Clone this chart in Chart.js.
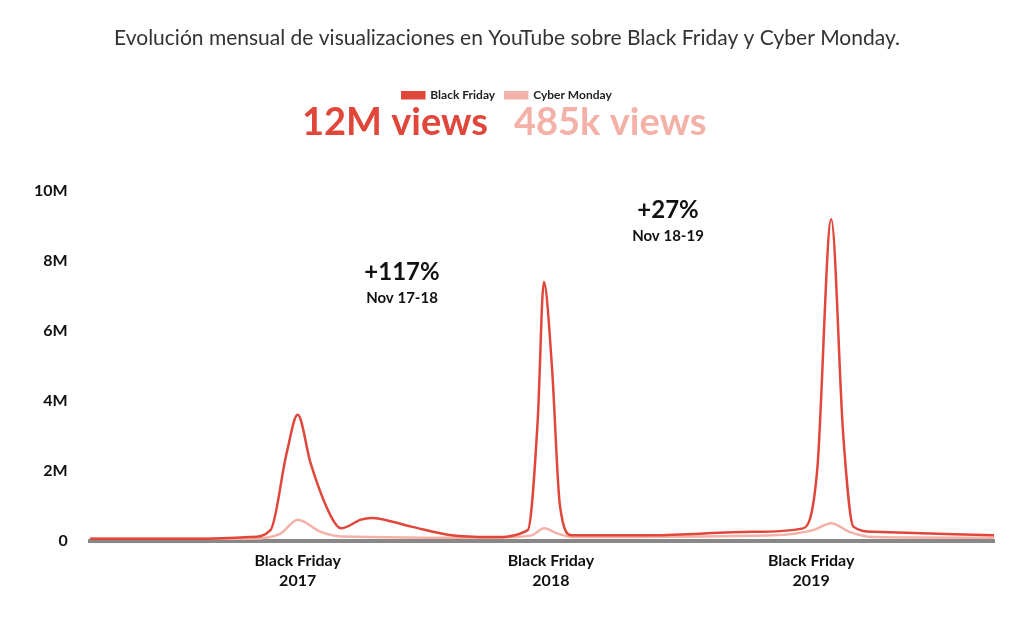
<!DOCTYPE html>
<html><head><meta charset="utf-8">
<script src="https://cdn.jsdelivr.net/npm/chart.js@4"></script>
<style>html,body{margin:0;background:#fff}#wrap{width:1024px;height:636px}</style>
</head><body><div id="wrap"><canvas id="myChart"></canvas></div>
<script>
// x position in approx. months from the start of 2017 (axis position units), values in millions
const bfX = [0, 5, 8, 9, 9.8, 10.35, 11, 12, 12.5, 13.5, 14, 16, 18, 20, 21.8, 22.3, 22.6, 23, 23.4, 24, 28, 33, 35.5, 36.2, 36.9, 37.5, 38, 39, 45];
const bfY = [0.05, 0.05, 0.1, 0.3, 2.5, 3.6, 2.2, 0.7, 0.35, 0.6, 0.65, 0.4, 0.15, 0.1, 0.3, 3.5, 7.4, 5, 1, 0.15, 0.15, 0.25, 0.35, 2, 9.2, 3, 0.4, 0.25, 0.15];
const cmX = [0, 8, 9.5, 10.35, 11.5, 12.5, 20, 22, 22.6, 23.3, 24, 34, 36, 36.9, 37.8, 39, 45];
const cmY = [0.05, 0.05, 0.2, 0.6, 0.25, 0.12, 0.08, 0.15, 0.35, 0.2, 0.1, 0.15, 0.3, 0.5, 0.25, 0.1, 0.08];
const xTickPos = [10.35, 22.95, 35.9];
const xTickLabels = [['Black Friday', '2017'], ['Black Friday', '2018'], ['Black Friday', '2019']];
const yTicks = [0, 2, 4, 6, 8, 10];
const totals = ['12M views', '485k views'];
const notes = [['+117%', 'Nov 17-18'], ['+27%', 'Nov 18-19']];

const red = '#e0463a';
const pink = '#f3b1a8';
const font = 'Lato, "Open Sans", sans-serif';

const overlay = {
  id: 'overlay',
  beforeInit(chart) {
    // room under the legend for the large totals
    const fit = chart.legend.fit;
    chart.legend.fit = function () { fit.call(this); this.height += 80; };
  },
  afterDraw(chart) {
    const c = chart.ctx;
    c.save();
    c.textBaseline = 'middle';
    c.font = 'bold 38px ' + font;
    c.fillStyle = red;
    c.textAlign = 'left';
    c.fillText(totals[0], 302, 123);
    c.fillStyle = pink;
    c.fillText(totals[1], 514, 123);
    c.fillStyle = '#111';
    c.textAlign = 'center';
    c.font = 'bold 24px ' + font;
    c.fillText(notes[0][0], 402, 272);
    c.fillText(notes[1][0], 668, 210);
    c.font = 'bold 15px ' + font;
    c.fillText(notes[0][1], 402, 298);
    c.fillText(notes[1][1], 668, 236);
    c.restore();
  }
};

const toPts = (xs, ys) => xs.map((x, i) => ({x: x, y: ys[i]}));

new Chart(document.getElementById('myChart'), {
  type: 'line',
  data: {
    datasets: [{
      label: 'Black Friday',
      data: toPts(bfX, bfY),
      borderColor: red, backgroundColor: red,
      borderWidth: 2.5, pointRadius: 0, cubicInterpolationMode: 'monotone'
    }, {
      label: 'Cyber Monday',
      data: toPts(cmX, cmY),
      borderColor: pink, backgroundColor: pink,
      borderWidth: 2.5, pointRadius: 0, cubicInterpolationMode: 'monotone'
    }]
  },
  options: {
    responsive: true, maintainAspectRatio: false, animation: false,
    layout: {padding: {left: 20, right: 30, top: 10, bottom: 43}},
    plugins: {
      title: {display: true, text: 'Evolución mensual de visualizaciones en YouTube sobre Black Friday y Cyber Monday.',
        color: '#333', font: {family: font, size: 21, weight: 'normal'}, padding: {top: 16, bottom: 28}},
      legend: {labels: {boxWidth: 22, boxHeight: 6, color: '#222', font: {family: font, size: 12, weight: 'bold'}},
        padding: 0},
      tooltip: {enabled: false}
    },
    scales: {
      x: {
        type: 'linear', min: 0, max: 45,
        afterBuildTicks: (ax) => { ax.ticks = xTickPos.map(v => ({value: v})); },
        ticks: {autoSkip: false, maxRotation: 0, color: '#111', font: {family: font, size: 16, weight: 'bold'},
          callback: (v, i) => xTickLabels[i]},
        grid: {display: false},
        border: {color: '#888', width: 4}
      },
      y: {
        min: 0, max: 10,
        afterBuildTicks: (ax) => { ax.ticks = yTicks.map(v => ({value: v})); },
        ticks: {padding: 14, color: '#111', font: {family: font, size: 16, weight: 'bold'},
          callback: (v) => v === 0 ? '0' : v + 'M'},
        grid: {display: false},
        border: {display: false}
      }
    }
  },
  plugins: [overlay]
});
</script>
</body></html>
